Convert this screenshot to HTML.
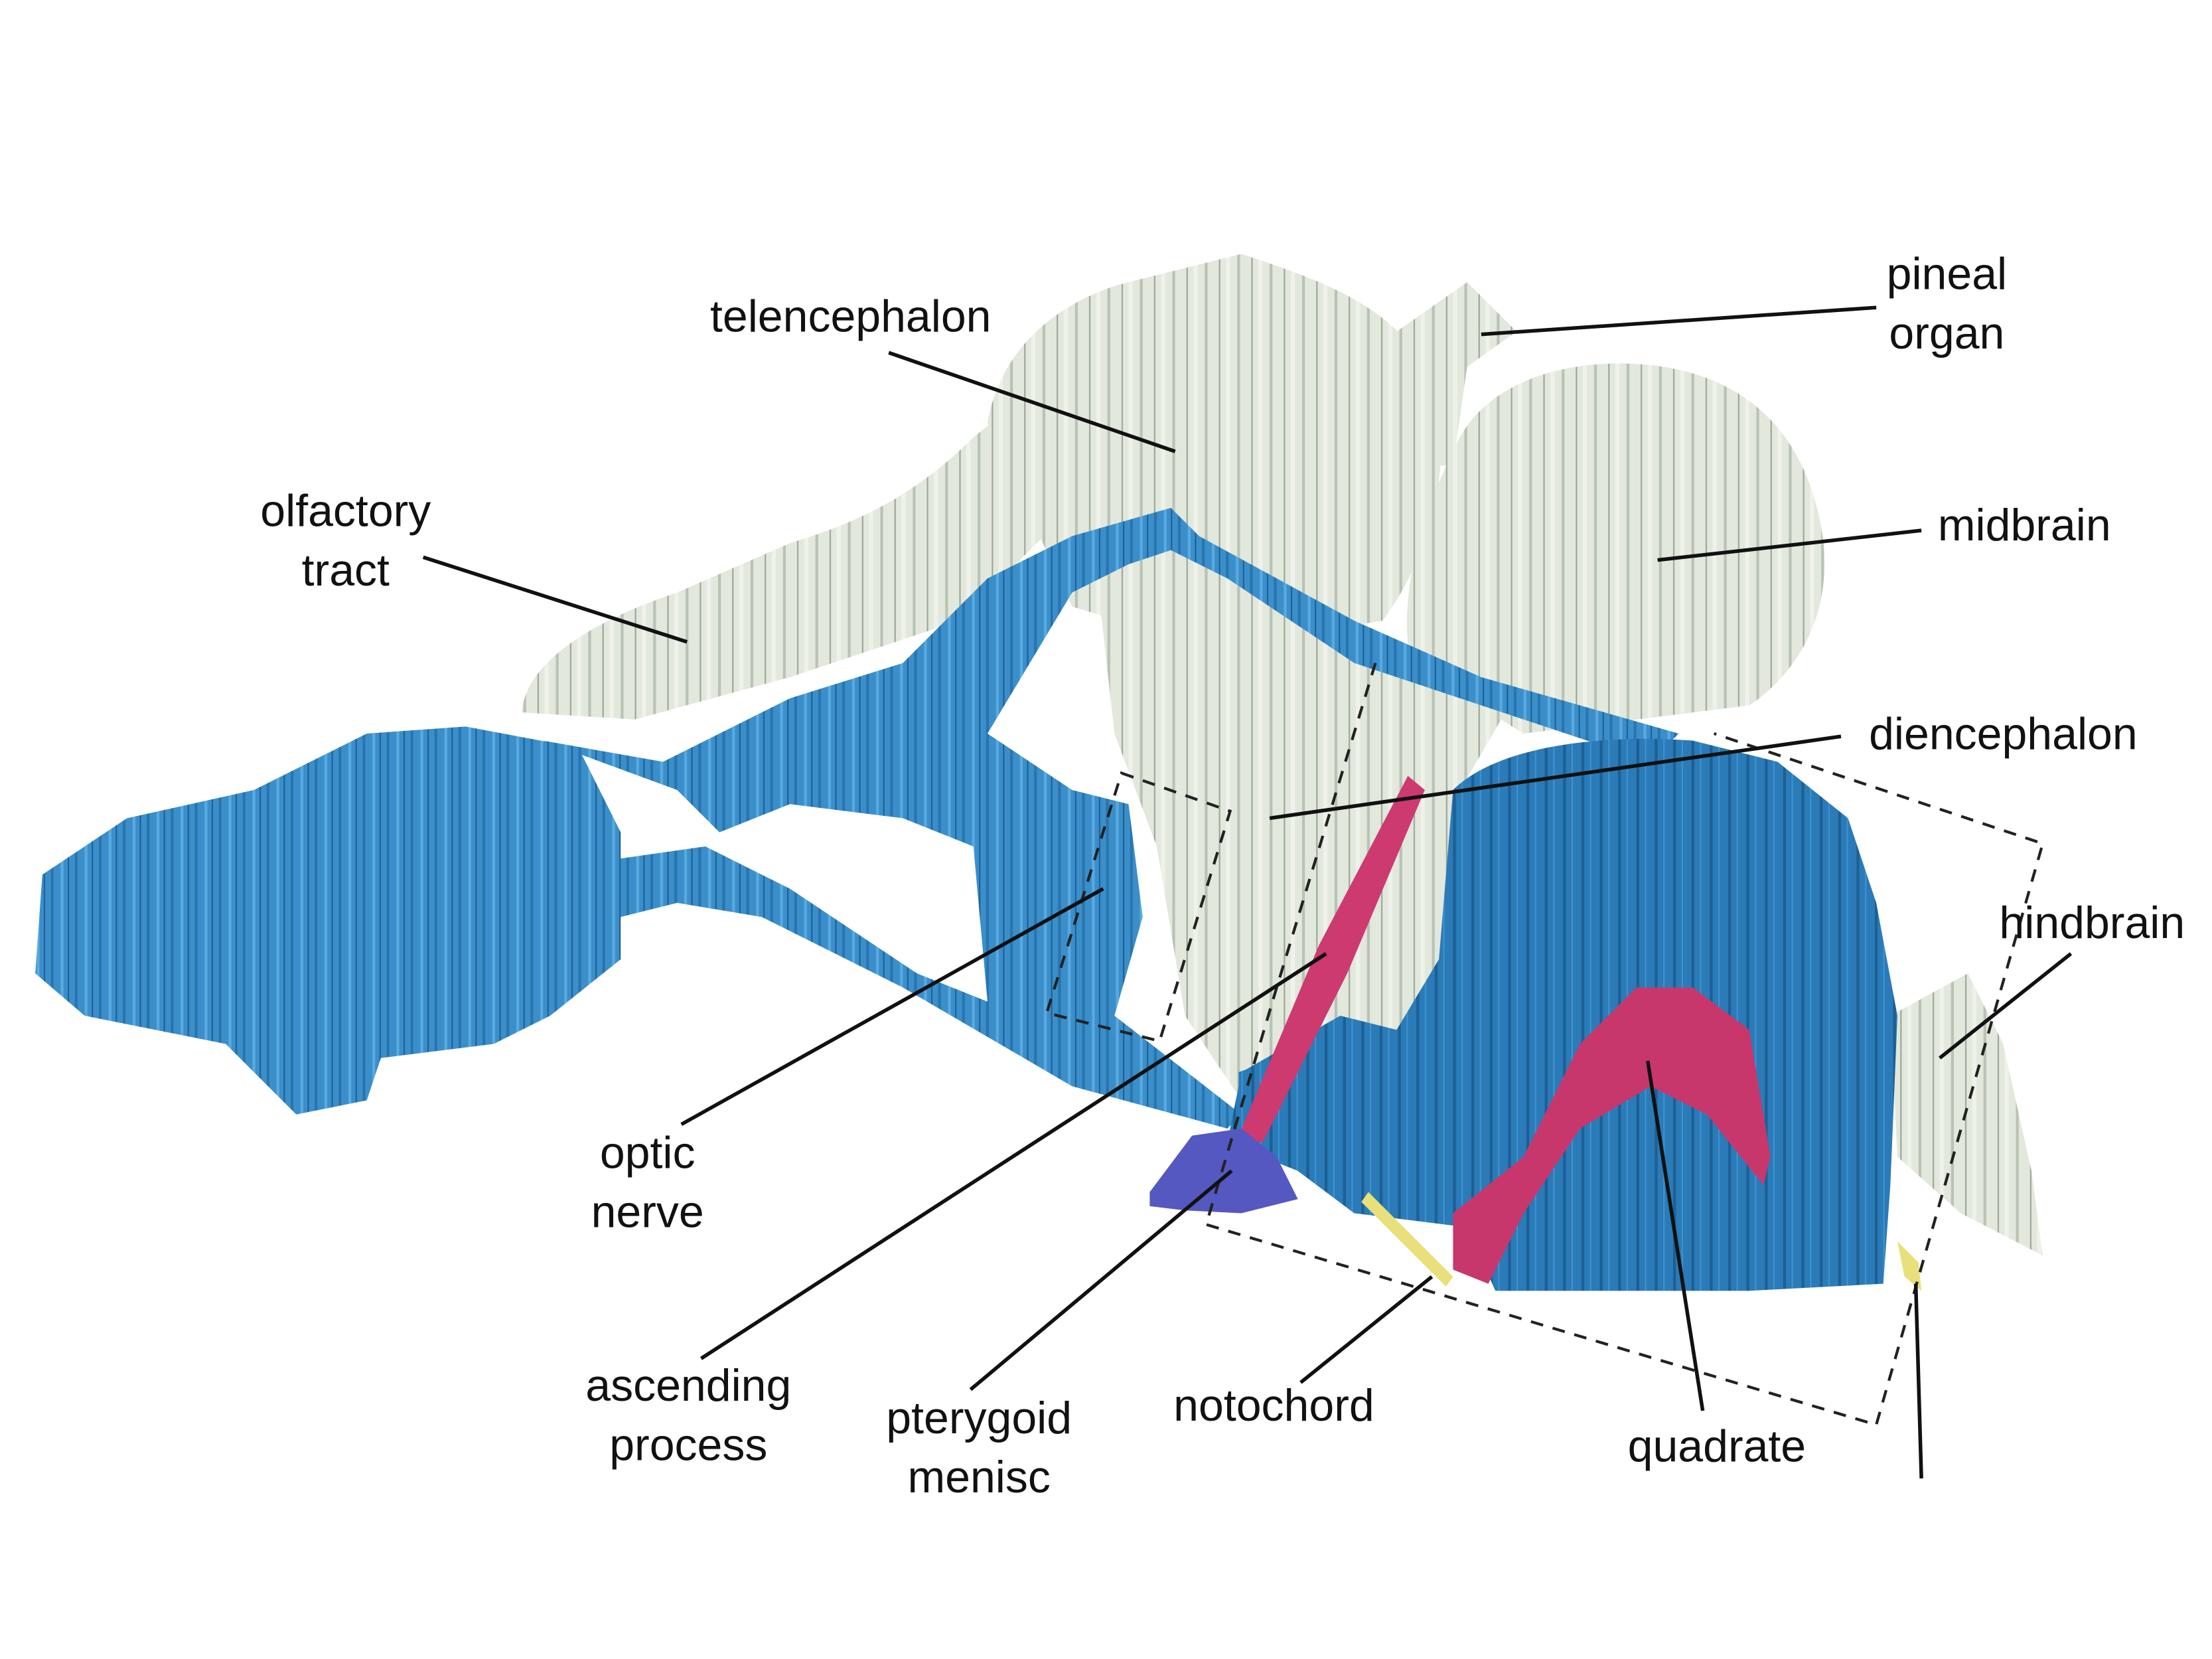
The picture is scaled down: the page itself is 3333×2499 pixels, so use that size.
<!DOCTYPE html>
<html><head><meta charset="utf-8"><style>
html,body{margin:0;padding:0;background:#fff;}
svg{display:block;}
text{font-family:"Liberation Sans",sans-serif;font-size:32px;fill:#111;text-anchor:middle;}
</style></head><body>
<svg width="3333" height="2499" viewBox="0 0 1568 1176" preserveAspectRatio="none">
<defs>
<pattern id="ws" width="23" height="10" patternUnits="userSpaceOnUse"><rect width="23" height="10" fill="#e2e8dc"/><rect x="3" width="2" height="10" fill="#b9c2b6"/><rect x="13" width="1" height="10" fill="#9aa59a"/><rect x="18" width="3" height="10" fill="#eef2ea"/></pattern>
<pattern id="bs" width="17" height="10" patternUnits="userSpaceOnUse"><rect width="17" height="10" fill="#3a8fcb"/><rect x="2" width="2" height="10" fill="#2a74ad"/><rect x="9" width="2" height="10" fill="#5aaadf"/><rect x="14" width="1" height="10" fill="#1f5f94"/></pattern>
<pattern id="bd" width="13" height="10" patternUnits="userSpaceOnUse"><rect width="13" height="10" fill="#2a7bb8"/><rect x="3" width="2" height="10" fill="#1d5f94"/><rect x="9" width="1" height="10" fill="#3e93cf"/></pattern>
</defs>
<g>
<path fill="url(#ws)" d="M370,505 C372,470 420,440 480,420 L560,385 C610,370 650,350 690,310 L740,270 L760,360 L680,440 L560,480 L450,510 Z"/>
<path fill="url(#ws)" d="M700,300 C710,240 760,210 800,200 L880,180 C940,200 1000,220 1018,280 C1030,340 1010,400 980,440 L860,460 L760,430 Z"/>
<path fill="url(#ws)" d="M990,235 L1040,200 L1075,235 L1040,260 L1030,330 L1010,330 Z"/>
<path fill="url(#ws)" d="M1030,320 C1050,270 1110,255 1160,258 C1230,262 1280,300 1292,380 C1300,440 1270,480 1240,500 L1080,520 L1000,470 C990,420 1010,360 1030,320 Z"/>
<path fill="url(#ws)" d="M780,430 C800,420 880,440 940,450 L1070,500 L1035,560 L1030,680 L1000,735 L960,760 L880,780 L840,720 L820,600 L790,520 Z"/>
<path fill="url(#ws)" d="M720,700 L760,610 L785,590 L800,650 L770,720 L725,730 Z"/>
<path fill="url(#ws)" d="M1340,720 L1395,690 L1420,740 L1440,830 L1448,890 L1390,860 L1345,820 Z"/>
</g>
<g>
<path fill="url(#bs)" d="M30,620 L90,580 L180,560 L260,520 L330,515 L410,530 L440,590 L440,680 L390,720 L350,740 L270,750 L260,780 L210,790 L160,740 L110,730 L60,720 L25,690 Z"/>
<path fill="url(#bs)" d="M385,525 L470,540 L560,495 L640,470 L680,430 L700,410 L760,380 L830,360 L850,380 L960,440 L1050,480 L1190,520 L1170,540 L1050,500 L960,470 L870,410 L830,390 L800,400 L760,420 L730,470 L700,520 L760,560 L800,570 L810,650 L790,720 L880,790 L870,800 L760,770 L640,700 L540,650 L480,640 L440,650 L430,610 L500,600 L560,630 L650,690 L700,710 L690,600 L640,580 L560,570 L510,590 L480,560 Z"/>
<path fill="url(#bd)" d="M1030,560 C1060,530 1130,520 1200,525 L1260,540 L1310,580 L1330,640 L1345,720 L1340,840 L1335,910 L1240,915 L1060,915 L1040,870 L960,860 L920,830 L870,810 L880,760 L950,720 L990,730 L1020,680 Z"/>
<path fill="url(#bd)" d="M878,760 L950,735 L1000,740 L1040,760 L1090,800 L1060,860 L960,860 L920,830 L878,810 Z"/>
</g>
<path fill="#cc3a70" d="M998,550 L1010,560 L955,690 L895,810 L878,805 L935,670 Z"/>
<path fill="#c8376c" d="M1120,740 L1160,700 L1200,700 L1240,730 L1255,820 L1250,840 L1210,790 L1170,770 L1120,800 L1080,860 L1055,910 L1030,900 L1030,860 L1080,820 Z"/>
<path fill="#5558c0" d="M815,845 L845,805 L880,800 L905,820 L920,850 L880,860 L840,858 L815,855 Z"/>
<path fill="#e8e07a" d="M970,845 L1030,905 L1025,912 L965,852 Z M1345,880 L1360,895 L1362,915 L1350,905 Z"/>
<g fill="none" stroke="#222" stroke-width="2" stroke-dasharray="9,7">
<polygon points="795,548 872,575 822,738 742,718"/>
<polyline points="975,470 905,700 855,868 1330,1010 1448,598 1215,520"/>
</g>
<g stroke="#111" stroke-width="2.6" fill="none">
<line x1="630" y1="250" x2="833" y2="320"/><line x1="1330" y1="218" x2="1050" y2="237"/>
<line x1="300" y1="395" x2="487" y2="455"/><line x1="1362" y1="376" x2="1175" y2="397"/>
<line x1="1305" y1="522" x2="900" y2="580"/><line x1="1468" y1="676" x2="1375" y2="750"/>
<line x1="483" y1="797" x2="782" y2="630"/><line x1="497" y1="963" x2="940" y2="676"/>
<line x1="688" y1="985" x2="873" y2="830"/><line x1="922" y1="980" x2="1015" y2="905"/>
<line x1="1207" y1="1000" x2="1168" y2="752"/><line x1="1362" y1="1048" x2="1358" y2="910"/>
</g>
<g>
<text x="603" y="235">telencephalon</text>
<text x="1380" y="205">pineal</text><text x="1380" y="247">organ</text>
<text x="245" y="373">olfactory</text><text x="245" y="415">tract</text>
<text x="1435" y="383">midbrain</text>
<text x="1420" y="531">diencephalon</text>
<text x="1483" y="665">hindbrain</text>
<text x="459" y="828">optic</text><text x="459" y="870">nerve</text>
<text x="488" y="993">ascending</text><text x="488" y="1035">process</text>
<text x="694" y="1016">pterygoid</text><text x="694" y="1058">menisc</text>
<text x="903" y="1007">notochord</text>
<text x="1217" y="1036">quadrate</text>
</g>
</svg>
</body></html>
